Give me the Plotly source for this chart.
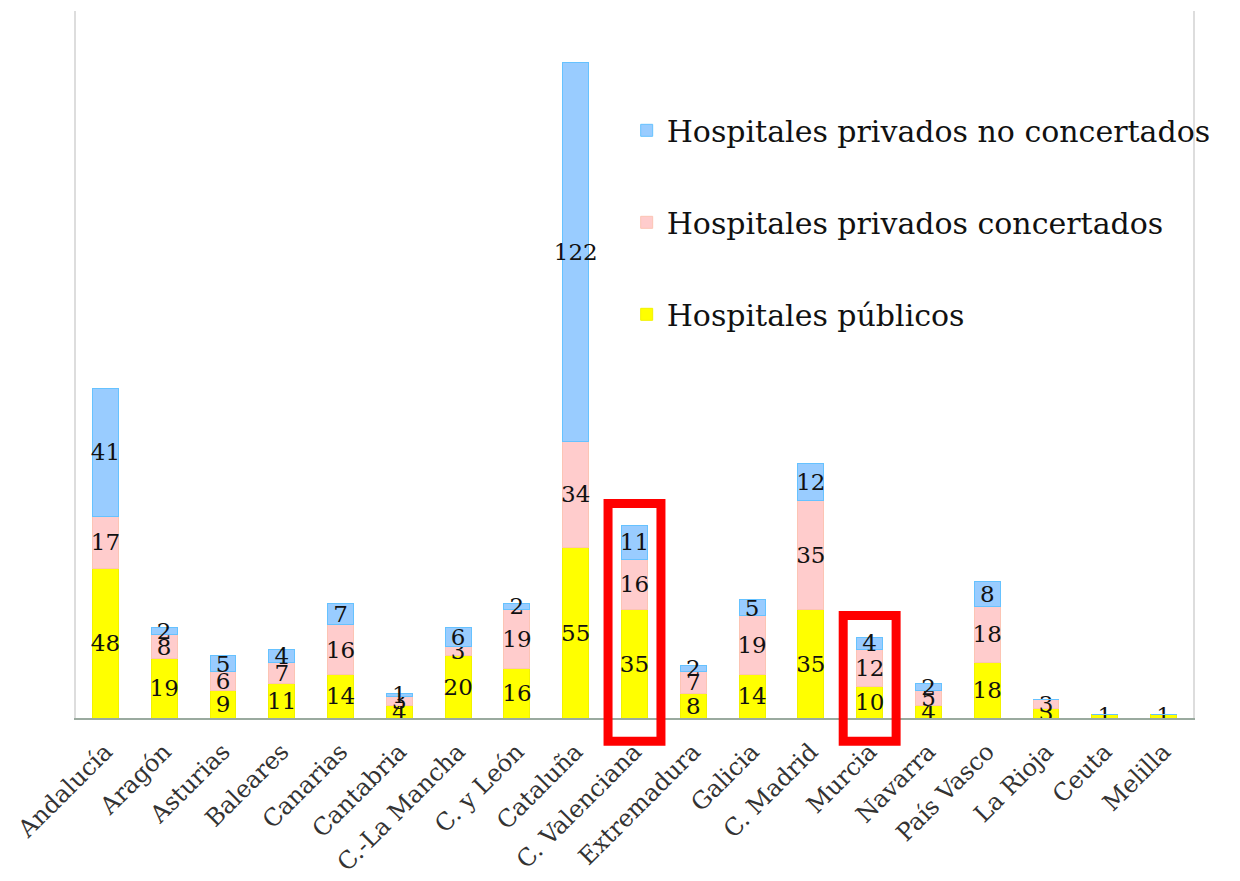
import plotly.graph_objects as go

categories = ["Andalucía", "Aragón", "Asturias", "Baleares", "Canarias", "Cantabria",
              "C.-La Mancha", "C. y León", "Cataluña", "C. Valenciana", "Extremadura",
              "Galicia", "C. Madrid", "Murcia", "Navarra", "País Vasco", "La Rioja",
              "Ceuta", "Melilla"]
publicos = [48, 19, 9, 11, 14, 4, 20, 16, 55, 35, 8, 14, 35, 10, 4, 18, 3, 1, 1]
concertados = [17, 8, 6, 7, 16, 3, 3, 19, 34, 16, 7, 19, 35, 12, 5, 18, 3, 0, 0]
no_concertados = [41, 2, 5, 4, 7, 1, 6, 2, 122, 11, 2, 5, 12, 4, 2, 8, 0, 0, 0]
highlighted = ["C. Valenciana", "Murcia"]

series = [
    ("Hospitales públicos", publicos, "#FFFF00", "#F2F200", 3),
    ("Hospitales privados concertados", concertados, "#FFCCCC", "#FCC4B4", 2),
    ("Hospitales privados no concertados", no_concertados, "#99CCFF", "#66C2FF", 1),
]

YMAX = 227.5
fig = go.Figure()
for name, vals, col, lcol, rank in series:
    fig.add_trace(go.Bar(
        x=categories, y=vals, name=name, legendgroup=name, legendrank=rank,
        marker=dict(color=col, line=dict(color=lcol, width=1)),
        text=[str(v) if v else "" for v in vals],
        textposition="inside", insidetextanchor="middle",
        constraintext="none", textangle=0,
        textfont=dict(family="DejaVu Serif", size=23, color="#111111"),
        width=0.44,
    ))

totals = [a + b + c for a, b, c in zip(publicos, concertados, no_concertados)]
for cat in highlighted:
    idx = categories.index(cat)
    top = totals[idx] + 7
    fig.add_shape(type="rect", xref="x", yref="paper",
                  x0=idx - 0.45, x1=idx + 0.45,
                  y0=-7.5 / YMAX, y1=top / YMAX,
                  line=dict(color="#FF0000", width=9), layer="above")

fig.update_layout(
    width=1240, height=881,
    margin=dict(l=76, r=47, t=11, b=163),
    paper_bgcolor="white", plot_bgcolor="white",
    barmode="stack", bargap=0.56,
    uniformtext=dict(minsize=20, mode="show"),
    showlegend=True,
    legend=dict(x=0.493, y=0.868, xanchor="left", yanchor="top",
                traceorder="grouped", tracegroupgap=50,
                font=dict(family="DejaVu Serif", size=30, color="#111111"),
                bgcolor="rgba(0,0,0,0)", itemwidth=30),
    xaxis=dict(showline=True, linecolor="#9AAA9F", linewidth=2, ticks="",
               tickangle=-45, showgrid=False, ticklabelstandoff=8, automargin=False,
               tickfont=dict(family="DejaVu Serif", size=24, color="#333333")),
    yaxis=dict(range=[0, YMAX], showline=True, mirror=True, linecolor="#DDDDDD",
               linewidth=2, showticklabels=False, showgrid=False, ticks="",
               zeroline=False, automargin=False),
)

fig.write_html("out.html")
